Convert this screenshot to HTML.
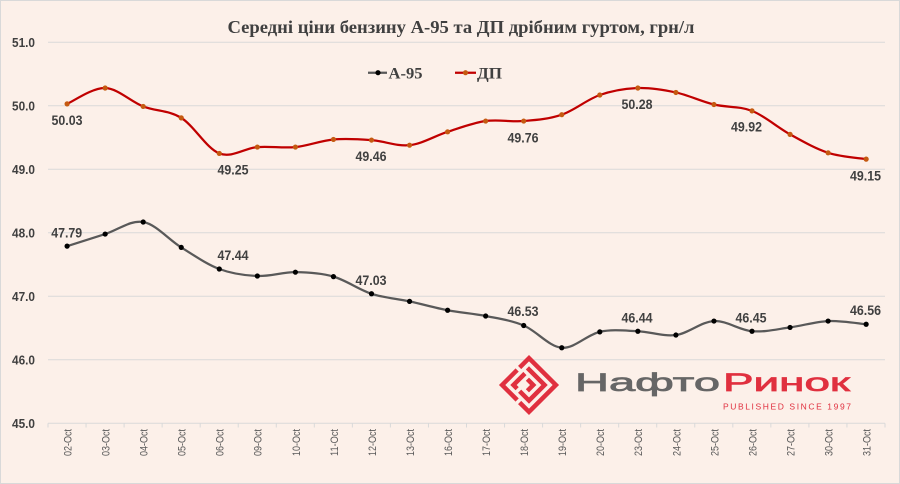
<!DOCTYPE html>
<html><head><meta charset="utf-8"><style>
html,body{margin:0;padding:0;background:#fcf0e9;}
svg{display:block;}
</style></head><body>
<svg id="c" width="900" height="484" viewBox="0 0 900 484" xmlns="http://www.w3.org/2000/svg">
<rect x="0" y="0" width="900" height="484" fill="#fcf0e9"/>
<rect x="0.5" y="0.5" width="899" height="483" fill="none" stroke="#d9d9d9" stroke-width="1"/>
<g stroke="#d9d9d9" stroke-width="1">
<line x1="48" y1="42.3" x2="885" y2="42.3"/>
<line x1="48" y1="105.8" x2="885" y2="105.8"/>
<line x1="48" y1="169.3" x2="885" y2="169.3"/>
<line x1="48" y1="232.8" x2="885" y2="232.8"/>
<line x1="48" y1="296.3" x2="885" y2="296.3"/>
<line x1="48" y1="359.8" x2="885" y2="359.8"/>
<line x1="48" y1="423.3" x2="885" y2="423.3"/>
</g>
<g id="ticks" stroke="#d9d9d9" stroke-width="1"></g>
<g font-family="'Liberation Sans',Arial,sans-serif" font-weight="bold" font-size="13" fill="#404040" text-anchor="end">
<text x="35" y="47" textLength="23" lengthAdjust="spacingAndGlyphs">51.0</text>
<text x="35" y="110.5" textLength="23" lengthAdjust="spacingAndGlyphs">50.0</text>
<text x="35" y="174" textLength="23" lengthAdjust="spacingAndGlyphs">49.0</text>
<text x="35" y="237.5" textLength="23" lengthAdjust="spacingAndGlyphs">48.0</text>
<text x="35" y="301" textLength="23" lengthAdjust="spacingAndGlyphs">47.0</text>
<text x="35" y="364.5" textLength="23" lengthAdjust="spacingAndGlyphs">46.0</text>
<text x="35" y="428" textLength="23" lengthAdjust="spacingAndGlyphs">45.0</text>
</g>
<g font-family="'Liberation Sans',Arial,sans-serif" font-size="11" fill="#595959" text-anchor="end">
<text transform="translate(71.5,429) rotate(-90)" textLength="27" lengthAdjust="spacingAndGlyphs">02-Oct</text>
<text transform="translate(109.5,429) rotate(-90)" textLength="27" lengthAdjust="spacingAndGlyphs">03-Oct</text>
<text transform="translate(147.6,429) rotate(-90)" textLength="27" lengthAdjust="spacingAndGlyphs">04-Oct</text>
<text transform="translate(185.6,429) rotate(-90)" textLength="27" lengthAdjust="spacingAndGlyphs">05-Oct</text>
<text transform="translate(223.7,429) rotate(-90)" textLength="27" lengthAdjust="spacingAndGlyphs">06-Oct</text>
<text transform="translate(261.7,429) rotate(-90)" textLength="27" lengthAdjust="spacingAndGlyphs">09-Oct</text>
<text transform="translate(299.8,429) rotate(-90)" textLength="27" lengthAdjust="spacingAndGlyphs">10-Oct</text>
<text transform="translate(337.8,429) rotate(-90)" textLength="27" lengthAdjust="spacingAndGlyphs">11-Oct</text>
<text transform="translate(375.9,429) rotate(-90)" textLength="27" lengthAdjust="spacingAndGlyphs">12-Oct</text>
<text transform="translate(413.9,429) rotate(-90)" textLength="27" lengthAdjust="spacingAndGlyphs">13-Oct</text>
<text transform="translate(452,429) rotate(-90)" textLength="27" lengthAdjust="spacingAndGlyphs">16-Oct</text>
<text transform="translate(490,429) rotate(-90)" textLength="27" lengthAdjust="spacingAndGlyphs">17-Oct</text>
<text transform="translate(528.1,429) rotate(-90)" textLength="27" lengthAdjust="spacingAndGlyphs">18-Oct</text>
<text transform="translate(566.1,429) rotate(-90)" textLength="27" lengthAdjust="spacingAndGlyphs">19-Oct</text>
<text transform="translate(604.2,429) rotate(-90)" textLength="27" lengthAdjust="spacingAndGlyphs">20-Oct</text>
<text transform="translate(642.2,429) rotate(-90)" textLength="27" lengthAdjust="spacingAndGlyphs">23-Oct</text>
<text transform="translate(680.3,429) rotate(-90)" textLength="27" lengthAdjust="spacingAndGlyphs">24-Oct</text>
<text transform="translate(718.3,429) rotate(-90)" textLength="27" lengthAdjust="spacingAndGlyphs">25-Oct</text>
<text transform="translate(756.4,429) rotate(-90)" textLength="27" lengthAdjust="spacingAndGlyphs">26-Oct</text>
<text transform="translate(794.4,429) rotate(-90)" textLength="27" lengthAdjust="spacingAndGlyphs">27-Oct</text>
<text transform="translate(832.5,429) rotate(-90)" textLength="27" lengthAdjust="spacingAndGlyphs">30-Oct</text>
<text transform="translate(870.5,429) rotate(-90)" textLength="27" lengthAdjust="spacingAndGlyphs">31-Oct</text>
</g>
<text x="461" y="33" text-anchor="middle" font-family="'Liberation Serif','Times New Roman',serif" font-weight="bold" font-size="18" fill="#404040" textLength="467" lengthAdjust="spacingAndGlyphs">Середні ціни бензину А-95 та ДП дрібним гуртом, грн/л</text>
<line x1="368" y1="72.7" x2="387" y2="72.7" stroke="#595959" stroke-width="2.25"/>
<circle cx="378" cy="72.7" r="2.6" fill="#000"/>
<text x="388.5" y="78.5" font-family="'Liberation Serif','Times New Roman',serif" font-weight="bold" font-size="16" fill="#404040" textLength="34" lengthAdjust="spacingAndGlyphs">А-95</text>
<line x1="455" y1="72.7" x2="476" y2="72.7" stroke="#c00000" stroke-width="2.25"/>
<circle cx="465.5" cy="72.7" r="2.6" fill="#c55a11"/>
<text x="477" y="78.5" font-family="'Liberation Serif','Times New Roman',serif" font-weight="bold" font-size="16" fill="#404040" textLength="25" lengthAdjust="spacingAndGlyphs">ДП</text>
<!-- logo -->
<g transform="translate(529,385) rotate(45)" fill="none" stroke="#e0303f" stroke-width="4.5" stroke-linecap="square">
<path d="M-19,-8 L-19,-19 L19,-19 L19,19 L8,19"/>
<path d="M-19,0 L-19,19 L0,19"/>
<path d="M-11,-11 L11,-11 L11,11 L0,11"/>
<path d="M-11,-3 L-11,11 L-8,11"/>
<path d="M-3,-3 L3,-3 L3,3"/>
</g>
<text x="575" y="391" font-family="'Liberation Sans',Arial,sans-serif" font-size="25" fill="#666666" stroke="#666666" stroke-width="0.7" textLength="145" lengthAdjust="spacingAndGlyphs">Нафто</text>
<text x="723" y="391" font-family="'Liberation Sans',Arial,sans-serif" font-size="25" fill="#e0303f" stroke="#e0303f" stroke-width="0.7" textLength="127" lengthAdjust="spacingAndGlyphs">Ринок</text>
<text x="723" y="409.5" font-family="'Liberation Sans',Arial,sans-serif" font-size="8.5" fill="#e0303f" textLength="128" lengthAdjust="spacing">PUBLISHED SINCE 1997</text>
<g id="series"></g>
<g font-family="'Liberation Sans',Arial,sans-serif" font-weight="bold" font-size="14" fill="#404040" text-anchor="middle">
<text x="67" y="125" textLength="31" lengthAdjust="spacingAndGlyphs">50.03</text>
<text x="233" y="174.3" textLength="31" lengthAdjust="spacingAndGlyphs">49.25</text>
<text x="371" y="161" textLength="31" lengthAdjust="spacingAndGlyphs">49.46</text>
<text x="523" y="142.3" textLength="31" lengthAdjust="spacingAndGlyphs">49.76</text>
<text x="637" y="109" textLength="31" lengthAdjust="spacingAndGlyphs">50.28</text>
<text x="746.5" y="131.7" textLength="31" lengthAdjust="spacingAndGlyphs">49.92</text>
<text x="865.5" y="180.7" textLength="31" lengthAdjust="spacingAndGlyphs">49.15</text>
<text x="66.7" y="237.3" textLength="31" lengthAdjust="spacingAndGlyphs">47.79</text>
<text x="233" y="260" textLength="31" lengthAdjust="spacingAndGlyphs">47.44</text>
<text x="371" y="285" textLength="31" lengthAdjust="spacingAndGlyphs">47.03</text>
<text x="523" y="316" textLength="31" lengthAdjust="spacingAndGlyphs">46.53</text>
<text x="637" y="322.3" textLength="31" lengthAdjust="spacingAndGlyphs">46.44</text>
<text x="751" y="322.3" textLength="31" lengthAdjust="spacingAndGlyphs">46.45</text>
<text x="865.5" y="315" textLength="31" lengthAdjust="spacingAndGlyphs">46.56</text>
</g>
</svg>
<script>
(function(){
var NS="http://www.w3.org/2000/svg";
function X(i){return 67.1+38.05*i;}
function Y(v){return 423.3-(v-45)*63.5;}
var a95=[47.79,47.98,48.17,47.77,47.43,47.32,47.38,47.31,47.04,46.92,46.78,46.69,46.54,46.19,46.44,46.45,46.39,46.61,46.45,46.51,46.61,46.56];
var dp=[50.03,50.28,49.99,49.81,49.25,49.35,49.35,49.47,49.46,49.38,49.59,49.76,49.76,49.86,50.17,50.28,50.21,50.02,49.92,49.55,49.26,49.16];
var ticks=document.getElementById('ticks');
for(var t=0;t<=22;t++){var xx=48+t*38.045;var l=document.createElementNS(NS,'line');l.setAttribute('x1',xx);l.setAttribute('x2',xx);l.setAttribute('y1',423.3);l.setAttribute('y2',427.5);ticks.appendChild(l);}
var g=document.getElementById('series');
function draw(vals,lc,mc){
 var p=vals.map(function(v,i){return [X(i),Y(v)];});
 var d="M"+p[0][0].toFixed(2)+","+p[0][1].toFixed(2);
 for(var i=0;i<p.length-1;i++){
  var p0=p[i>0?i-1:i],p1=p[i],p2=p[i+1],p3=p[i+2<p.length?i+2:i+1];
  var c1x=p1[0]+(p2[0]-p0[0])/6,c1y=p1[1]+(p2[1]-p0[1])/6;
  var c2x=p2[0]-(p3[0]-p1[0])/6,c2y=p2[1]-(p3[1]-p1[1])/6;
  d+=" C"+c1x.toFixed(2)+","+c1y.toFixed(2)+" "+c2x.toFixed(2)+","+c2y.toFixed(2)+" "+p2[0].toFixed(2)+","+p2[1].toFixed(2);
 }
 var path=document.createElementNS(NS,'path');
 path.setAttribute('d',d);path.setAttribute('fill','none');path.setAttribute('stroke',lc);path.setAttribute('stroke-width','2.25');path.setAttribute('stroke-linejoin','round');
 g.appendChild(path);
 p.forEach(function(q){var c=document.createElementNS(NS,'circle');c.setAttribute('cx',q[0]);c.setAttribute('cy',q[1]);c.setAttribute('r','2.6');c.setAttribute('fill',mc);g.appendChild(c);});
}
draw(a95,'#595959','#000000');
draw(dp,'#c00000','#c55a11');
})();
</script>
</body></html>
